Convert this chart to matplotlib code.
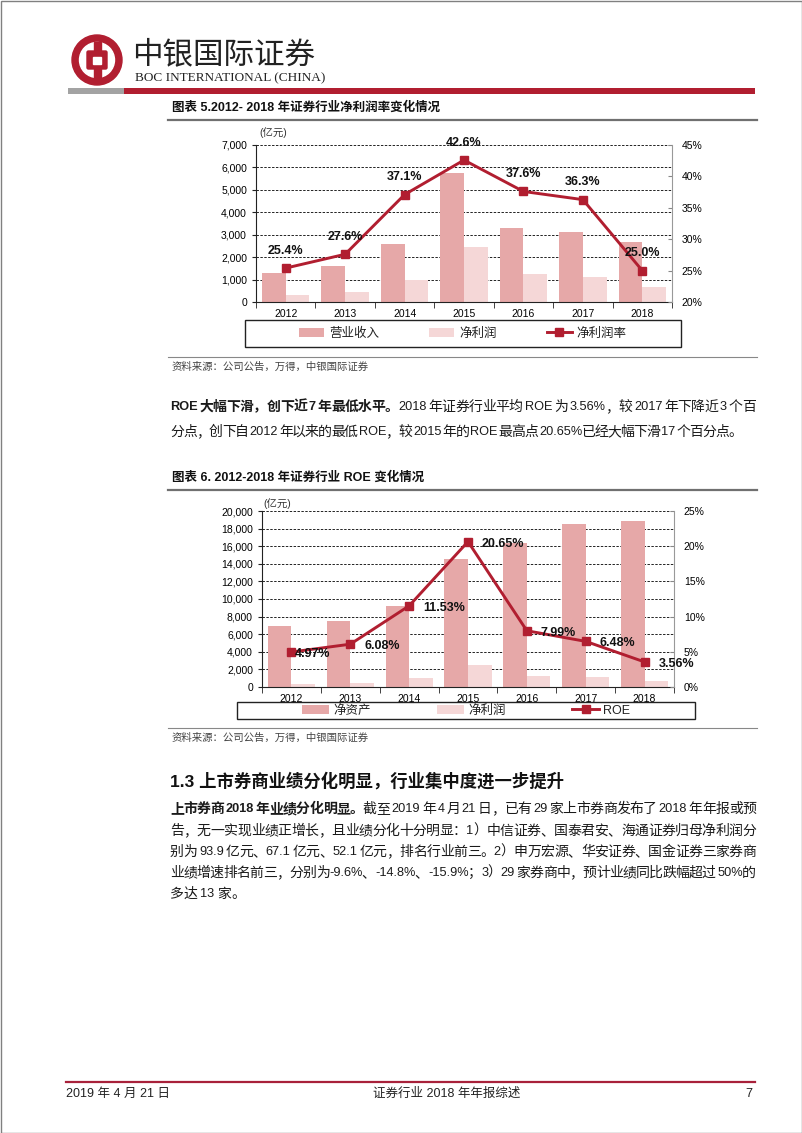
import re
import numpy as np
import matplotlib
matplotlib.use('Agg')
import matplotlib.pyplot as plt
from matplotlib.patches import Rectangle, Circle, FancyBboxPatch
from matplotlib.ticker import FuncFormatter, MultipleLocator

plt.rcParams['font.family'] = ['Liberation Sans', 'Noto Sans CJK SC', 'DejaVu Sans']

# data
years = ['2012', '2013', '2014', '2015', '2016', '2017', '2018']
revenue = [1295, 1592, 2603, 5752, 3280, 3113, 2663]       # 营业收入 (亿元)
net_profit = [329, 440, 966, 2447, 1234, 1130, 666]        # 净利润 (亿元)
net_margin = [25.4, 27.6, 37.1, 42.6, 37.6, 36.3, 25.0]    # 净利润率 %
net_assets = [6943, 7538, 9205, 14553, 16400, 18500, 18900]  # 净资产 (亿元)
roe = [4.97, 6.08, 11.53, 20.65, 7.99, 6.48, 3.56]         # ROE %

RED = '#B11E30'
BAR1 = '#E6A8A8'
BAR2 = '#F5D7D7'

W, H = 802, 1133
fig = plt.figure(figsize=(W / 100, H / 100), dpi=100)
fig.patch.set_facecolor('white')

# page canvas in pixel coordinates
bg = fig.add_axes([0, 0, 1, 1])
bg.set_xlim(0, W)
bg.set_ylim(H, 0)
bg.axis('off')
renderer = fig.canvas.get_renderer()


def px_axes(left, top, right, bottom):
    return fig.add_axes([left / W, 1 - bottom / H, (right - left) / W, (bottom - top) / H])


def tok_size(tok, size):
    return size * 0.92 if ord(tok[0]) < 128 else size


def text_w(s, size, weight):
    if s == ' ':
        return 2.6
    t = bg.text(0, 0, s, fontsize=tok_size(s, size), fontweight=weight)
    w = t.get_window_extent(renderer).width
    t.remove()
    return w


def draw_line(x0, y, parts, size=10, right=None, color='#1a1a1a'):
    toks = []
    for s, bold in parts:
        for tok in re.findall(r'[A-Za-z0-9.,%\-]+|.', s):
            toks.append((tok, 'bold' if bold else 'normal'))
    widths = [text_w(t, size, wt) for t, wt in toks]
    extra = 0
    if right is not None and len(toks) > 1:
        extra = (right - x0 - sum(widths)) / (len(toks) - 1)
    xx = x0
    for (t, wt), w in zip(toks, widths):
        if t != ' ':
            bg.text(xx, y, t, fontsize=tok_size(t, size), fontweight=wt, va='center', ha='left', color=color)
        xx += w + extra


# page frame
bg.add_patch(Rectangle((0.5, 0.5), W - 1, H - 1, fill=False, ec='#808080', lw=1))

# logo
cx, cy = 97, 60
bg.add_patch(Circle((cx, cy), 25, color=RED))
bg.add_patch(Circle((cx, cy), 17.5, color='white'))
bg.add_patch(Rectangle((cx - 3.5, cy - 18), 7, 36, color=RED))
bg.add_patch(FancyBboxPatch((cx - 8.5, cy - 7.5), 17, 15, boxstyle='round,pad=1.5', color=RED))
bg.add_patch(Rectangle((cx - 4, cy - 3.5), 8, 7, color='white'))
bg.text(132, 55, '中银国际证券', fontsize=22, family=['Noto Sans CJK SC'], va='center', ha='left', color='#222')
bg.text(135, 78, 'BOC INTERNATIONAL (CHINA)', fontsize=9.5, family=['Liberation Serif'], va='center', ha='left',
        color='#222')
bg.add_patch(Rectangle((68, 88), 56, 6, color='#A3A3A3', lw=0))
bg.add_patch(Rectangle((124, 88), 631, 6, color=RED, lw=0))

# ---------------- chart 1 ----------------
bg.text(172, 108, '图表 5.2012- 2018 年证券行业净利润率变化情况', fontsize=9, fontweight='bold', va='center', color='#111')
bg.plot([168, 757], [119.5, 119.5], color='#707070', lw=1.6)

x = np.arange(len(years))


def base_axes(ax, ymax, ystep):
    ax.set_facecolor('none')
    ax.set_xlim(-0.5, len(years) - 0.5)
    ax.set_ylim(0, ymax)
    ax.yaxis.set_major_locator(MultipleLocator(ystep))
    ax.yaxis.set_major_formatter(FuncFormatter(lambda v, p: f'{v:,.0f}'))
    ax.set_axisbelow(True)
    ax.yaxis.grid(True, linestyle=(0, (2.5, 1.5)), color='#222', lw=0.7)
    ax.set_xticks(x)
    ax.set_xticklabels(years)
    ax.set_xticks(np.arange(-0.5, len(years), 1), minor=True)
    ax.tick_params(axis='x', which='major', length=0, labelsize=7.5, pad=5)
    ax.tick_params(axis='x', which='minor', length=4, direction='out', color='#222')
    ax.tick_params(axis='y', length=3, direction='out', labelsize=7.5, color='#222')
    for s in ['top', 'right']:
        ax.spines[s].set_visible(False)
    ax.spines['left'].set_color('#222')
    ax.spines['bottom'].set_color('#222')


def right_axes(ax, lo, hi, step):
    axr = ax.twinx()
    axr.set_ylim(lo, hi)
    axr.yaxis.set_major_locator(MultipleLocator(step))
    axr.yaxis.set_major_formatter(FuncFormatter(lambda v, p: f'{v:.0f}%'))
    axr.tick_params(axis='y', length=3, direction='in', labelsize=7.5, color='#888', pad=7)
    for s in ['top', 'left', 'bottom']:
        axr.spines[s].set_visible(False)
    axr.spines['right'].set_color('#999')
    return axr


ax1 = px_axes(256, 145, 672, 302)
base_axes(ax1, 7000, 1000)
b1 = ax1.bar(x - 0.2, revenue, width=0.4, color=BAR1)
b2 = ax1.bar(x + 0.2, net_profit, width=0.4, color=BAR2)
ax1r = right_axes(ax1, 20, 45, 5)
l1, = ax1r.plot(x, net_margin, color=RED, lw=2.1, marker='s', ms=6.3)
for i, v in enumerate(net_margin):
    ax1r.annotate(f'{v:.1f}%', (i, v), xytext=(0, 12.6), textcoords='offset points', ha='center', va='center',
                  fontsize=9, fontweight='bold', color='#111')
bg.text(259, 133, '(亿元)', fontsize=7.5, va='center', color='#333')

bg.add_patch(Rectangle((245, 320), 436, 27, fill=False, ec='#222', lw=1))
fig.legend([b1, b2, l1], ['营业收入', '净利润', '净利润率'], loc='center',
           bbox_to_anchor=((245 + 681) / 2 / W, 1 - 333.5 / H), ncol=3, frameon=False,
           fontsize=9, handlelength=2.0, handletextpad=0.4, columnspacing=4.0, labelcolor='#222')

bg.plot([168, 757], [357, 357], color='#888', lw=0.8)
bg.text(172, 367, '资料来源：公司公告，万得，中银国际证券', fontsize=7.5, va='center', color='#444')

# paragraph
draw_line(170, 407, [('ROE 大幅下滑，创下近 7 年最低水平。', True),
                     ('2018 年证券行业平均 ROE 为 3.56%，较 2017 年下降近 3 个百', False)], right=756)
draw_line(170, 432, [('分点，创下自 2012 年以来的最低 ROE，较 2015 年的 ROE 最高点 20.65%已经大幅下滑 17 个百分点。', False)],
          right=742)

# ---------------- chart 2 ----------------
bg.text(172, 478, '图表 6. 2012-2018 年证券行业 ROE 变化情况', fontsize=9, fontweight='bold', va='center', color='#111')
bg.plot([168, 757], [489.5, 489.5], color='#707070', lw=1.6)

ax2 = px_axes(262, 511, 674, 687)
base_axes(ax2, 20000, 2000)
c1 = ax2.bar(x - 0.2, net_assets, width=0.4, color=BAR1)
c2 = ax2.bar(x + 0.2, net_profit, width=0.4, color=BAR2)
ax2r = right_axes(ax2, 0, 25, 5)
l2, = ax2r.plot(x, roe, color=RED, lw=2.1, marker='s', ms=6.3)
label_dx = [3, 14, 14, 14, 14, 14, 14]
for i, v in enumerate(roe):
    ax2r.annotate(f'{v:.2f}%', (i, v), xytext=(label_dx[i] * 0.72, -1.5), textcoords='offset points',
                  ha='left', va='center', fontsize=9, fontweight='bold', color='#111')
bg.text(263, 504, '(亿元)', fontsize=7.5, va='center', color='#333')

bg.add_patch(Rectangle((237, 702), 458, 17, fill=False, ec='#222', lw=1))
fig.legend([c1, c2, l2], ['净资产', '净利润', 'ROE'], loc='center',
           bbox_to_anchor=((237 + 695) / 2 / W, 1 - 710.5 / H), ncol=3, frameon=False,
           fontsize=9, handlelength=2.2, handletextpad=0.3, columnspacing=5.3, labelcolor='#222',
           borderpad=0.1)

bg.plot([168, 757], [728, 728], color='#888', lw=0.8)
bg.text(172, 738, '资料来源：公司公告，万得，中银国际证券', fontsize=7.5, va='center', color='#444')

# ---------------- section 1.3 ----------------
bg.text(170, 781, '1.3 上市券商业绩分化明显，行业集中度进一步提升', fontsize=12.5, fontweight='bold', va='center',
        color='#111')
draw_line(170, 809, [('上市券商 2018 年业绩分化明显。', True),
                     ('截至 2019 年 4 月 21 日，已有 29 家上市券商发布了 2018 年年报或预', False)], right=756)
draw_line(170, 831, [('告，无一实现业绩正增长，且业绩分化十分明显：1）中信证券、国泰君安、海通证券归母净利润分', False)],
          right=756)
draw_line(170, 852, [('别为 93.9 亿元、67.1 亿元、52.1 亿元，排名行业前三。2）申万宏源、华安证券、国金证券三家券商', False)],
          right=756)
draw_line(170, 873, [('业绩增速排名前三，分别为-9.6%、-14.8%、-15.9%；3）29 家券商中，预计业绩同比跌幅超过 50%的', False)],
          right=756)
draw_line(170, 894, [('多达 13 家。', False)])

# footer
bg.plot([66, 755], [1082, 1082], color='#A8213A', lw=1.6)
bg.text(66, 1094, '2019 年 4 月 21 日', fontsize=9, va='center', color='#222')
bg.text(447, 1094, '证券行业 2018 年年报综述', fontsize=9, va='center', ha='center', color='#222')
bg.text(752, 1094, '7', fontsize=9, va='center', ha='right', color='#222')

fig.savefig('out.png', dpi=100)
